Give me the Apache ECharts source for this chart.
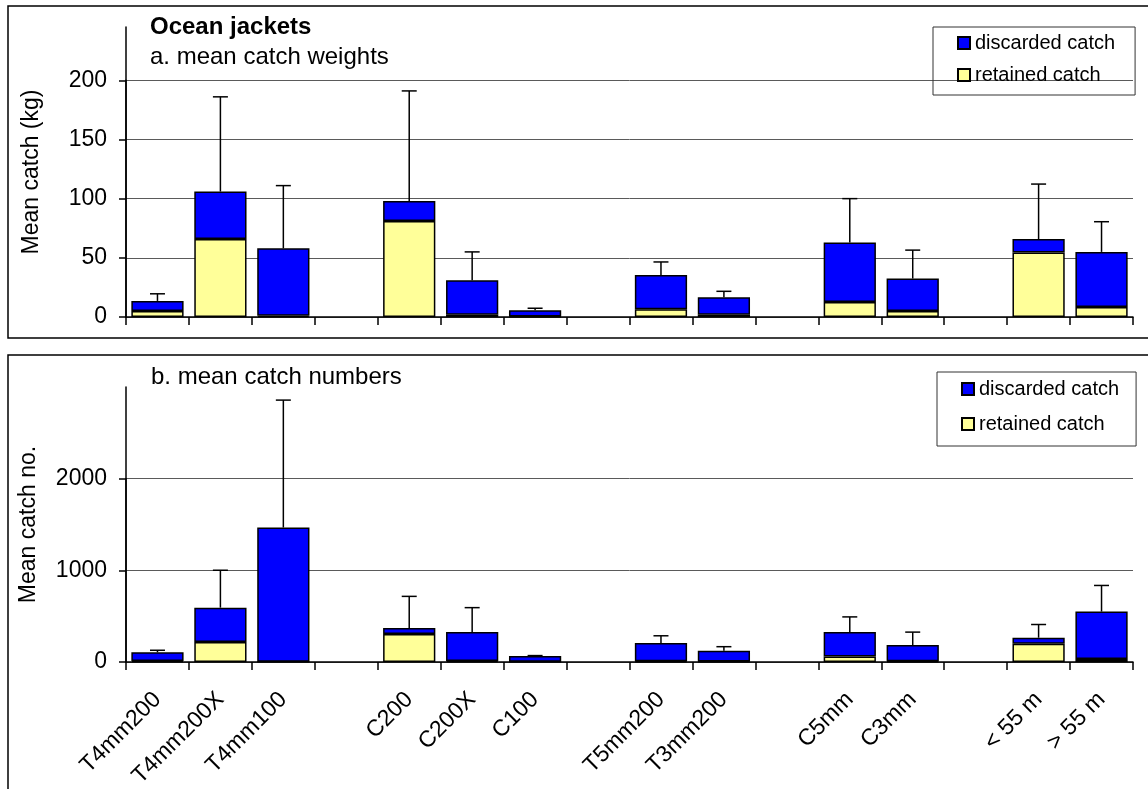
<!DOCTYPE html>
<html>
<head>
<meta charset="utf-8">
<title>Ocean jackets</title>
<script src="https://cdn.jsdelivr.net/npm/echarts@6/dist/echarts.min.js"></script>
<style>
  html, body { margin: 0; padding: 0; background: #fff; }
  #chart { width: 1148px; height: 789px; }
</style>
</head>
<body>
<div id="chart"></div>
<script>
// categories, '' marks the empty slots between gear groups
const categories = ['T4mm200', 'T4mm200X', 'T4mm100', '', 'C200', 'C200X', 'C100', '',
  'T5mm200', 'T3mm200', '', 'C5mm', 'C3mm', '', '< 55 m', '> 55 m']

// a. mean catch weights (kg)
const weightRetained  = [5, 66, 1, '-', 81, 2, 0.5, '-', 6.5, 2, '-', 12.7, 5, '-', 54.5, 8.5]
const weightDiscarded = [8.6, 40, 57, '-', 17, 29, 5.2, '-', 29, 14.7, '-', 50.3, 27.5, '-', 11.3, 46.5]
const weightError     = [6, 80, 53, '-', 93, 24, 1.7, '-', 11, 5, '-', 37, 24, '-', 46.5, 25.5]

// b. mean catch numbers
const numberRetained  = [12, 218, 3, '-', 305, 10, 3, '-', 8, 6, '-', 60, 8, '-', 200, 34]
const numberDiscarded = [94, 375, 1464, '-', 65, 316, 63, '-', 199, 118, '-', 266, 177, '-', 65, 516]
const numberError     = [22, 408, 1390, '-', 346, 267, 4, '-', 79, 43, '-', 166, 141, '-', 144, 285]

// y scales: axis line runs to the max, ticks/labels stop at the last tick
const weightMax = 245
const weightTicks = [0, 50, 100, 150, 200]
const numberMax = 3000
const numberTicks = [0, 1000, 2000]

const FONT = '"Liberation Sans", Arial, sans-serif'
const BLUE = '#0000FF'
const YELLOW = '#FFFF99'

// plot areas (px)
const PLOT_LEFT = 126
const PLOT_RIGHT = 15
const TOP_PLOT = { top: 27, height: 290 }
const BOTTOM_PLOT = { top: 387, height: 275 }

const chart = echarts.init(document.getElementById('chart'))

// upper end of the error bar = top of the stack + error
const errorData = (retained, discarded, error) => {
  const out = []
  retained.forEach((r, i) => {
    if (r === '-') return
    const total = r + discarded[i]
    out.push([i, total, total + error[i]])
  })
  return out
}

const renderError = (params, api) => {
  const p0 = api.coord([api.value(0), api.value(1)])
  const p1 = api.coord([api.value(0), api.value(2)])
  const style = { stroke: '#000', lineWidth: 1.5 }
  return {
    type: 'group',
    children: [
      { type: 'line', shape: { x1: p0[0], y1: p0[1], x2: p1[0], y2: p1[1] }, style },
      { type: 'line', shape: { x1: p1[0] - 7.5, y1: p1[1], x2: p1[0] + 7.5, y2: p1[1] }, style }
    ]
  }
}

const barStyle = (color) => ({ color, borderColor: '#000', borderWidth: 1.5 })

const legendCfg = (left, top, padding, gap) => ({
  left, top,
  orient: 'vertical',
  data: ['discarded catch', 'retained catch'],
  icon: 'rect',
  itemWidth: 12,
  itemHeight: 12,
  itemGap: gap,
  padding,
  borderColor: '#333',
  borderWidth: 1,
  textStyle: { fontFamily: FONT, fontSize: 20, color: '#000' }
})

// grid pair per panel: the full plot, and a lower grid that ends at the last tick
const plotGrid = (p) => ({
  left: PLOT_LEFT, right: PLOT_RIGHT, top: p.top, height: p.height,
  containLabel: false, outerBoundsMode: 'none'
})
const tickGrid = (p, max, ticks) => {
  const h = p.height * ticks[ticks.length - 1] / max
  return {
    left: PLOT_LEFT, right: PLOT_RIGHT, top: p.top + p.height - h, height: h,
    containLabel: false, outerBoundsMode: 'none'
  }
}

const xAxisCfg = (gridIndex, showLabel) => ({
  type: 'category',
  gridIndex,
  data: categories,
  axisLine: { show: true, lineStyle: { color: '#000', width: 1.5 } },
  axisTick: { show: true, inside: false, length: 8, lineStyle: { color: '#000', width: 1.5 } },
  axisLabel: {
    show: showLabel,
    interval: 0,
    rotate: 45,
    margin: 34,
    fontFamily: FONT,
    fontSize: 23,
    color: '#000'
  },
  splitLine: { show: false }
})

const hiddenX = (gridIndex) => ({ type: 'value', gridIndex, show: false, min: 0, max: 1 })

// axis line + name on the full-height grid
const yLineCfg = (gridIndex, name, max, nameGap) => ({
  type: 'value',
  gridIndex,
  min: 0,
  max,
  name,
  nameLocation: 'middle',
  nameGap,
  nameTextStyle: { fontFamily: FONT, fontSize: 23, color: '#000' },
  axisLine: { show: true, lineStyle: { color: '#000', width: 1.5 } },
  axisTick: { show: false },
  axisLabel: { show: false },
  splitLine: { show: false }
})

// ticks, labels and gridlines on the tick grid
const yTickCfg = (gridIndex, ticks) => ({
  type: 'value',
  gridIndex,
  min: ticks[0],
  max: ticks[ticks.length - 1],
  interval: ticks[1] - ticks[0],
  axisLine: { show: true, lineStyle: { color: '#000', width: 1.5 } },
  axisTick: { show: true, inside: false, length: 7, lineStyle: { color: '#000', width: 1.5 } },
  axisLabel: {
    show: true,
    formatter: v => String(v),
    margin: 19,
    fontFamily: FONT,
    fontSize: 23,
    color: '#000'
  },
  splitLine: { show: true, lineStyle: { color: '#5a5a5a', width: 1 } }
})

const option = {
  backgroundColor: '#fff',
  animation: false,
  title: [
    { text: 'Ocean jackets', left: 150, top: 15, padding: 0,
      textStyle: { fontFamily: FONT, fontSize: 24, fontWeight: 'bold', color: '#000' } },
    { text: 'a. mean catch weights', left: 150, top: 45, padding: 0,
      textStyle: { fontFamily: FONT, fontSize: 24, fontWeight: 'normal', color: '#000' } },
    { text: 'b. mean catch numbers', left: 151, top: 365, padding: 0,
      textStyle: { fontFamily: FONT, fontSize: 24, fontWeight: 'normal', color: '#000' } }
  ],
  legend: [
    legendCfg(933, 27, [6, 20, 10, 24], 12),
    legendCfg(937, 372, [7, 17, 12, 24], 15)
  ],
  // panel frames
  graphic: [
    { type: 'rect', shape: { x: 8, y: 6, width: 1145, height: 332 },
      style: { fill: 'none', stroke: '#000', lineWidth: 1.5 }, silent: true, z: -1 },
    { type: 'rect', shape: { x: 8, y: 355, width: 1145, height: 450 },
      style: { fill: 'none', stroke: '#000', lineWidth: 1.5 }, silent: true, z: -1 }
  ],
  grid: [
    plotGrid(TOP_PLOT),
    tickGrid(TOP_PLOT, weightMax, weightTicks),
    plotGrid(BOTTOM_PLOT),
    tickGrid(BOTTOM_PLOT, numberMax, numberTicks)
  ],
  xAxis: [xAxisCfg(0, false), hiddenX(1), xAxisCfg(2, true), hiddenX(3)],
  yAxis: [
    yLineCfg(0, 'Mean catch (kg)', weightMax, 83),
    yTickCfg(1, weightTicks),
    yLineCfg(2, 'Mean catch no.', numberMax, 86),
    yTickCfg(3, numberTicks)
  ],
  series: [
    {
      name: 'retained catch', type: 'bar', stack: 'w', xAxisIndex: 0, yAxisIndex: 0,
      data: weightRetained, itemStyle: barStyle(YELLOW), barCategoryGap: '17%'
    },
    {
      name: 'discarded catch', type: 'bar', stack: 'w', xAxisIndex: 0, yAxisIndex: 0,
      data: weightDiscarded, itemStyle: barStyle(BLUE), barCategoryGap: '17%'
    },
    {
      type: 'custom', xAxisIndex: 0, yAxisIndex: 0, z: 3, silent: true,
      renderItem: renderError, data: errorData(weightRetained, weightDiscarded, weightError)
    },
    {
      name: 'retained catch', type: 'bar', stack: 'n', xAxisIndex: 2, yAxisIndex: 2,
      data: numberRetained, itemStyle: barStyle(YELLOW), barCategoryGap: '17%'
    },
    {
      name: 'discarded catch', type: 'bar', stack: 'n', xAxisIndex: 2, yAxisIndex: 2,
      data: numberDiscarded, itemStyle: barStyle(BLUE), barCategoryGap: '17%'
    },
    {
      type: 'custom', xAxisIndex: 2, yAxisIndex: 2, z: 3, silent: true,
      renderItem: renderError, data: errorData(numberRetained, numberDiscarded, numberError)
    }
  ]
}

chart.setOption(option)
window.addEventListener('resize', () => chart.resize())
</script>
</body>
</html>
